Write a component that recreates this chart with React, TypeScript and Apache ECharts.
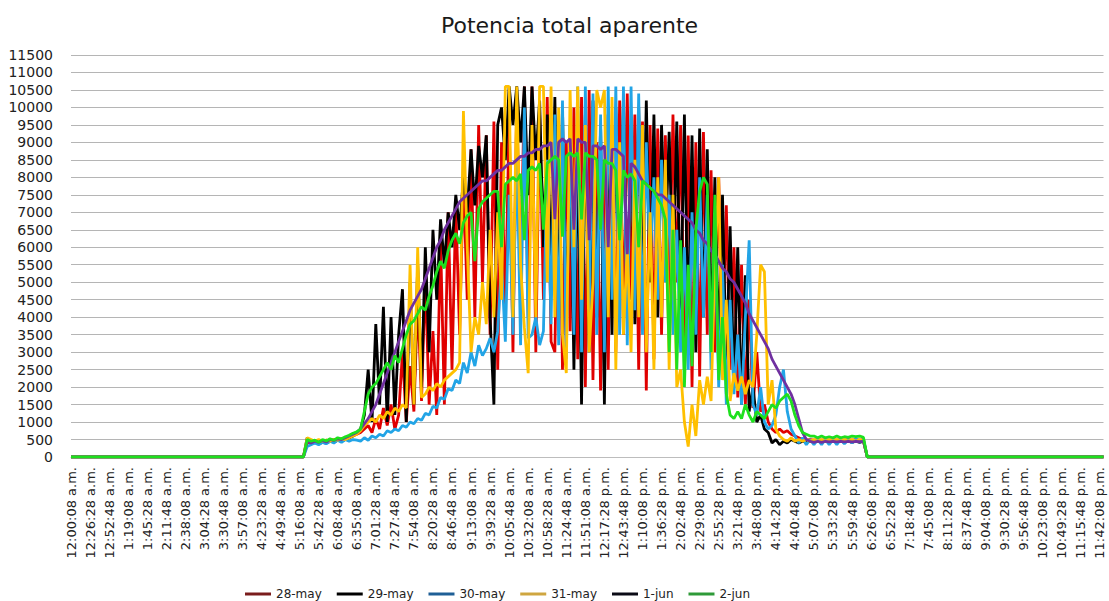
import React, { useEffect, useRef } from "react";
import * as echarts from "echarts";

// Visible tick labels (every 26 min 20 s)
const TICK_LABELS = [
  "12:00:08 a.m.", "12:26:28 a.m.", "12:52:48 a.m.", "1:19:08 a.m.", "1:45:28 a.m.", "2:11:48 a.m.",
  "2:38:08 a.m.", "3:04:28 a.m.", "3:30:48 a.m.", "3:57:08 a.m.", "4:23:28 a.m.", "4:49:48 a.m.",
  "5:16:08 a.m.", "5:42:28 a.m.", "6:08:48 a.m.", "6:35:08 a.m.", "7:01:28 a.m.", "7:27:48 a.m.",
  "7:54:08 a.m.", "8:20:28 a.m.", "8:46:48 a.m.", "9:13:08 a.m.", "9:39:28 a.m.", "10:05:48 a.m.",
  "10:32:08 a.m.", "10:58:28 a.m.", "11:24:48 a.m.", "11:51:08 a.m.", "12:17:28 p.m.", "12:43:48 p.m.",
  "1:10:08 p.m.", "1:36:28 p.m.", "2:02:48 p.m.", "2:29:08 p.m.", "2:55:28 p.m.", "3:21:48 p.m.",
  "3:48:08 p.m.", "4:14:28 p.m.", "4:40:48 p.m.", "5:07:08 p.m.", "5:33:28 p.m.", "5:59:48 p.m.",
  "6:26:08 p.m.", "6:52:28 p.m.", "7:18:48 p.m.", "7:45:08 p.m.", "8:11:28 p.m.", "8:37:48 p.m.",
  "9:04:08 p.m.", "9:30:28 p.m.", "9:56:48 p.m.", "10:23:08 p.m.", "10:49:28 p.m.", "11:15:48 p.m.",
  "11:42:08 p.m.",
];
const LABEL_EVERY = 5; // categories between two visible tick labels
const STEP_SECONDS = 316; // 5 min 16 s per category
const FIRST_SECOND = 8;
const CATEGORY_COUNT = 272;
const ACTIVE_START = 60; // category index of 5:16:08 a.m.; values below start here (before: 0)

const SERIES_NAMES = ["28-may", "29-may", "30-may", "31-may", "1-jun", "2-jun"];

// Values, one per category from 5:16:08 a.m. to 6:26:08 p.m.
const may28 = [
  0, 0, 400, 450, 400, 450, 420, 480, 450, 500,
  480, 520, 500, 550, 600, 650, 700, 800, 900, 700,
  1100, 800, 1400, 900, 1500, 800, 1200, 3000, 1000, 2600,
  1300, 4500, 1600, 5200, 1500, 3600, 1200, 6200, 1500, 7000,
  2500, 7200, 3500, 8000, 4500, 8800, 4000, 9500, 5000, 9200,
  3500, 9600, 2500, 9000, 4000, 9800, 3000, 10200, 5000, 10600,
  4000, 10600, 3000, 9800, 4500, 10300, 3300, 3000, 9500, 2500,
  9000, 3600, 10000, 2800, 10300, 2000, 10500, 2200, 9000, 1900,
  8500, 2500, 9500, 3000, 10200, 3500, 10400, 4500, 9800, 2500,
  9600, 1900, 9500, 2800, 9400, 3500, 9200, 4500, 9800, 5000,
  9500, 3000, 9200, 2000, 9000, 2300, 9300, 3500, 8200, 3000,
  8000, 3500, 7200, 2500, 6000, 1700, 5500, 1500, 4500, 1400,
  3000, 1300, 1500, 1000, 800, 700, 800, 700, 750, 650,
  600, 550, 500, 480, 500, 480, 500, 480, 500, 480,
  500, 480, 500, 480, 500, 480, 500, 480, 500, 0,
  0,
];
const may29 = [
  0, 0, 550, 400, 450, 380, 420, 400, 450, 430,
  480, 450, 500, 550, 600, 700, 800, 1200, 2500, 1000,
  3800, 1500, 4300, 1000, 4000, 1200, 3500, 4800, 1000, 5000,
  1500, 5500, 2000, 6000, 3000, 6500, 4500, 6800, 5500, 7000,
  6000, 7500, 6500, 8000, 7000, 8800, 7200, 8900, 8000, 9200,
  4000, 1500, 9500, 10000, 8500, 10600, 9500, 10600, 9000, 10600,
  7500, 10600, 8500, 10200, 6000, 9800, 5000, 10300, 4000, 10000,
  3500, 9500, 2500, 9000, 1500, 9800, 3000, 10200, 4000, 9500,
  1500, 9800, 3500, 10000, 4500, 10300, 4000, 9500, 3800, 10000,
  4500, 10200, 5000, 9800, 4000, 9500, 6000, 9300, 5000, 9600,
  4000, 9800, 3500, 9200, 3000, 9400, 4000, 8800, 3500, 8000,
  3000, 7500, 2500, 6600, 2000, 6000, 1500, 5200, 1300, 2000,
  1000, 1200, 800, 700, 400, 500, 350, 450, 400, 500,
  450, 400, 450, 420, 450, 420, 450, 420, 450, 420,
  450, 420, 450, 420, 450, 420, 450, 420, 450, 0,
  0,
];
const may30 = [
  0, 0, 300, 350, 400, 350, 420, 380, 450, 400,
  480, 420, 500, 450, 500, 480, 450, 550, 480, 600,
  550, 650, 600, 750, 700, 800, 750, 900, 850, 1000,
  950, 1100, 1050, 1250, 1200, 1450, 1400, 1700, 1650, 1950,
  1900, 2200, 2100, 2700, 2400, 3000, 2600, 3200, 2900, 3100,
  3400, 3000, 3600, 5500, 3300, 7500, 3500, 9000, 3200, 10000,
  3400, 3500, 4000, 3200, 3600, 8500, 3800, 9800, 3200, 10200,
  2800, 9500, 3500, 10600, 3000, 10600, 4000, 10400, 3500, 9800,
  3000, 10600, 4500, 10600, 3500, 10600, 3200, 10600, 4200, 10400,
  3500, 9000, 5500, 8000, 4500, 8500, 5000, 7500, 3500, 6500,
  3000, 6000, 2500, 7000, 3500, 8000, 4000, 7500, 2500, 6500,
  2000, 5500, 1500, 4500, 1800, 3500, 1500, 4000, 6200, 1500,
  1200, 2000, 1000, 800, 900, 1200, 2000, 2500, 1300, 800,
  600, 400, 550, 350, 500, 350, 500, 350, 500, 350,
  500, 350, 500, 380, 500, 400, 520, 420, 500, 0,
  0,
];
const may31 = [
  0, 0, 550, 500, 450, 500, 450, 480, 450, 500,
  480, 520, 500, 550, 600, 650, 750, 900, 1000, 1100,
  1000, 1200, 1100, 1300, 1200, 1400, 1300, 1500, 1400, 5500,
  1500, 6000, 1700, 1800, 2000, 1900, 2100, 2000, 2200, 2300,
  2400, 2500, 2700, 9900, 6000, 3000, 4000, 3500, 5000, 3800,
  6500, 4000, 7000, 4500, 10600, 10600, 4000, 10600, 5500, 3700,
  2400, 9500, 4000, 10600, 10600, 5000, 10600, 4000, 10000, 3500,
  2400, 10500, 6000, 10600, 4500, 9500, 3000, 5000, 10500, 10000,
  10500, 4000, 10300, 2500, 9000, 3500, 6000, 3000, 8500, 4000,
  9500, 3000, 7000, 2500, 8000, 4000, 8500, 2500, 7500, 2000,
  2500, 1000, 300, 1500, 600, 2200, 1500, 2300, 1600, 5500,
  8000, 2200, 4500, 1600, 2400, 1900, 2300, 1800, 2200, 2000,
  3500, 5500, 5300, 1500, 2200, 800, 600, 500, 450, 550,
  450, 500, 450, 500, 450, 500, 450, 500, 450, 500,
  450, 500, 450, 500, 450, 500, 450, 500, 450, 0,
  0,
];
const jun1 = [
  0, 0, 450, 400, 450, 420, 470, 430, 500, 470,
  520, 500, 550, 600, 650, 700, 800, 950, 1100, 1300,
  1500, 1800, 2100, 2400, 2700, 3000, 3300, 3600, 3900, 4200,
  4400, 4600, 4800, 5100, 5400, 5700, 6000, 6200, 6500, 6700,
  6900, 7100, 7300, 7400, 7500, 7600, 7700, 7800, 7900, 7900,
  8000, 8100, 8200, 8200, 8300, 8400, 8400, 8500, 8600, 8600,
  8700, 8700, 8800, 8800, 8900, 8900, 9000, 6800, 9000, 9100,
  9000, 9100, 6500, 9100, 9000, 9000, 6200, 8900, 8900, 8800,
  8900, 6000, 8800, 8800, 8700, 8600, 5800, 8400, 8300, 8100,
  7900, 7800, 7700, 7600, 7500, 7500, 7400, 7300, 7200, 7100,
  7000, 6900, 6800, 6700, 6500, 6400, 6200, 6100, 5900, 5800,
  5600, 5400, 5300, 5100, 5000, 4800, 4600, 4400, 4100, 3900,
  3700, 3500, 3300, 3100, 2800, 2600, 2400, 2200, 2000, 1800,
  1500, 1100, 700, 500, 450, 420, 450, 420, 450, 430,
  450, 430, 450, 430, 450, 430, 450, 440, 450, 0,
  0,
];
const jun2 = [
  0, 0, 500, 450, 480, 420, 500, 460, 520, 480,
  550, 520, 580, 620, 680, 720, 800, 1300, 1800, 2000,
  2100, 2300, 2500, 2700, 2500, 2900, 2700, 3100, 3500, 3800,
  3900, 4100, 4300, 4200, 4600, 4900, 5300, 5600, 5400, 5900,
  6200, 6400, 6100, 6700, 6900, 7000, 5600, 7100, 7300, 7400,
  7500, 7600, 7600, 6000, 7800, 7900, 8000, 7900, 8100, 6200,
  8200, 8300, 8200, 8400, 6500, 8400, 8500, 8600, 8500, 6300,
  8600, 8700, 8600, 8700, 6800, 8700, 8600, 8600, 8500, 6500,
  8500, 8400, 8400, 8200, 6200, 8200, 8000, 8100, 7900, 6000,
  7900, 7800, 7700, 7600, 7400, 7200, 6800, 3000, 6500, 2500,
  6200, 2000, 5500, 2600, 6500, 7600, 8000, 7800, 3000, 7500,
  2200, 4000, 1800, 1200, 1100, 1300, 1100, 1500, 1200, 1000,
  1300, 1200, 1100, 1300, 1500, 1400, 1600, 1700, 1800, 1600,
  1200, 900, 700, 650, 600, 600, 550, 600, 550, 580,
  550, 600, 550, 580, 560, 600, 580, 600, 560, 0,
  0,
];

const LINE_COLORS = ["#e00000", "#000000", "#22a4e6", "#ffc000", "#7030a0", "#1ee01e"];
const LEGEND_COLORS = ["#7a1c1c", "#000000", "#1f5f96", "#cfa640", "#0b0b16", "#2f9a38"];

function timeLabel(sec: number): string {
  const h = Math.floor(sec / 3600) % 24;
  const m = Math.floor((sec % 3600) / 60);
  const s = sec % 60;
  const h12 = h % 12 === 0 ? 12 : h % 12;
  const pad = (n: number) => (n < 10 ? "0" + n : "" + n);
  return `${h12}:${pad(m)}:${pad(s)} ${h < 12 ? "a.m." : "p.m."}`;
}

function buildCategories(): string[] {
  const out: string[] = [];
  for (let i = 0; i < CATEGORY_COUNT; i++) {
    if (i % LABEL_EVERY === 0 && i / LABEL_EVERY < TICK_LABELS.length) out.push(TICK_LABELS[i / LABEL_EVERY]);
    else out.push(timeLabel(FIRST_SECOND + STEP_SECONDS * i));
  }
  return out;
}

function fullDay(active: number[]): number[] {
  const out: number[] = [];
  for (let i = 0; i < CATEGORY_COUNT; i++) {
    const k = i - ACTIVE_START;
    out.push(k >= 0 && k < active.length ? active[k] : 0);
  }
  return out;
}

export default function App() {
  const ref = useRef<HTMLDivElement>(null);
  useEffect(() => {
    if (!ref.current) return;
    const chart = echarts.init(ref.current, null, { renderer: "svg" });
    const font = "DejaVu Sans";
    const all = [may28, may29, may30, may31, jun1, jun2];
    chart.setOption({
      animation: false,
      backgroundColor: "#ffffff",
      title: {
        text: "Potencia total aparente",
        left: 436,
        top: 9,
        textStyle: { fontSize: 22, fontWeight: "normal", color: "#1a1a1a", fontFamily: font },
      },
      legend: {
        left: 240,
        top: 583,
        icon: "rect",
        itemWidth: 26,
        itemHeight: 3,
        itemGap: 15,
        textStyle: { fontSize: 12, color: "#222", fontFamily: font },
        data: SERIES_NAMES.map((n, i) => ({ name: n, itemStyle: { color: LEGEND_COLORS[i] } })),
      },
      grid: { left: 71, right: 5.5, top: 55, bottom: 144, containLabel: false },
      xAxis: {
        type: "category",
        boundaryGap: false,
        data: buildCategories(),
        axisLine: { show: true, lineStyle: { color: "#bdbdbd" } },
        axisTick: { show: false },
        axisLabel: {
          interval: LABEL_EVERY - 1,
          rotate: 90,
          fontSize: 13,
          fontFamily: font,
          color: "#222",
          margin: 10,
        },
        splitLine: { show: false },
      },
      yAxis: {
        type: "value",
        min: 0,
        max: 11500,
        interval: 500,
        axisLine: { show: false },
        axisTick: { show: false },
        axisLabel: {
          fontSize: 14,
          fontFamily: font,
          color: "#222",
          margin: 18,
          formatter: (v: number) => String(v),
        },
        splitLine: { lineStyle: { color: "#b5b5b5", width: 1 } },
      },
      series: SERIES_NAMES.map((n, i) => ({
        name: n,
        type: "line",
        data: fullDay(all[i]),
        symbol: "none",
        showSymbol: false,
        color: LINE_COLORS[i],
        lineStyle: { width: 2.8, color: LINE_COLORS[i] },
        emphasis: { disabled: true },
        z: 2 + i,
      })),
    });
    return () => chart.dispose();
  }, []);
  return (
    <div
      ref={ref}
      style={{ position: "fixed", left: 0, top: 0, width: 1109, height: 601, background: "#fff" }}
    />
  );
}
